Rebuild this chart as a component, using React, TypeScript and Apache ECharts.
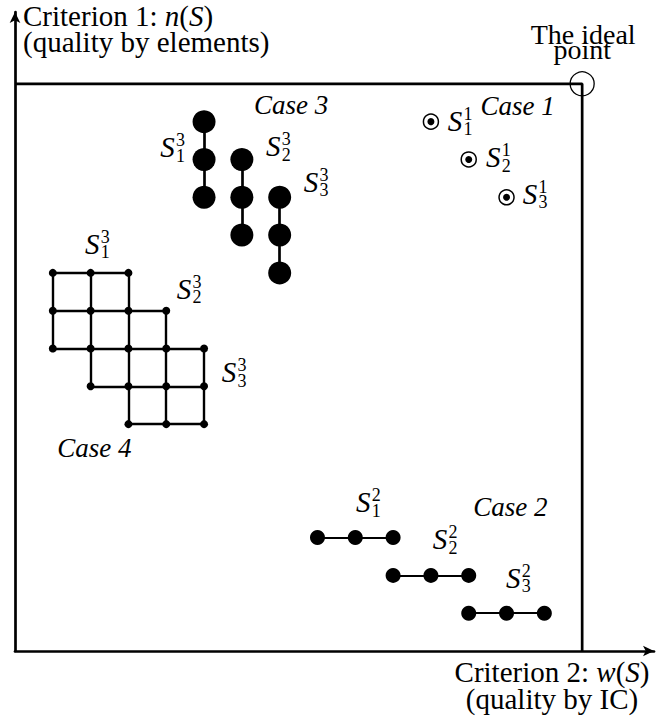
import React, { useEffect, useRef } from "react";
import * as echarts from "echarts";

const FONT = "Liberation Serif, serif";
const AXIS_MAX = 16.9;

// Frame of the criteria space (top and right sides), ideal point
const boxPath = [[0, 15], [15, 15], [15, 0]];
const idealPoint = [15, 15];

// Case 1: single solutions (circled points)
const case1Points = [[11, 14], [12, 13], [13, 12]];
// Case 2: horizontal triples
const case2Sets = [
  [[8, 3], [9, 3], [10, 3]],
  [[10, 2], [11, 2], [12, 2]],
  [[12, 1], [13, 1], [14, 1]],
];
// Case 3: vertical triples
const case3Sets = [
  [[5, 14], [5, 13], [5, 12]],
  [[6, 13], [6, 12], [6, 11]],
  [[7, 12], [7, 11], [7, 10]],
];
// Case 4: lattice (rows: [y, xFrom, xTo], cols: [x, yFrom, yTo])
const case4Rows = [[10, 1, 3], [9, 1, 4], [8, 1, 5], [7, 2, 5], [6, 3, 5]];
const case4Cols = [[1, 8, 10], [2, 7, 10], [3, 6, 10], [4, 6, 9], [5, 6, 8]];
const case4Nodes = [
  [1, 10], [2, 10], [3, 10],
  [1, 9], [2, 9], [3, 9], [4, 9],
  [1, 8], [2, 8], [3, 8], [4, 8], [5, 8],
  [2, 7], [3, 7], [4, 7], [5, 7],
  [3, 6], [4, 6], [5, 6],
];

// S labels (position of the letter S in data units)
const sLabelPos = [
  [4.03, 13.32], [6.83, 13.35], [7.83, 12.41],
  [11.64, 14.02], [12.65, 13.06], [13.62, 12.09],
  [9.21, 3.93], [11.24, 2.96], [13.18, 1.94],
  [2.04, 10.77], [4.47, 9.58], [5.66, 7.37],
];
const sLabelSup = ["3", "3", "3", "1", "1", "1", "2", "2", "2", "3", "3", "3"];
const sLabelSub = ["1", "2", "3", "1", "2", "3", "1", "2", "3", "1", "2", "3"];

const caseNames = ["Case 1", "Case 2", "Case 3", "Case 4"];
const casePos = [[13.29, 14.42], [13.1, 3.81], [7.3, 14.44], [2.1, 5.37]];

const idealLines = ["The ideal", "point"];
// title pieces: [text, italic]
const yTitle1: [string, boolean][] = [["Criterion 1: ", false], ["n", true], ["(", false], ["S", true], [")", false]];
const yTitle2 = "(quality by elements)";
const xTitle1: [string, boolean][] = [["Criterion 2: ", false], ["w", true], ["(", false], ["S", true], [")", false]];
const xTitle2 = "(quality by IC)";

const black = "#000";

function txt(x: number, y: number, text: string, size: number, italic: boolean, align = "center", valign = "middle") {
  return {
    type: "text",
    x,
    y,
    silent: true,
    z: 100,
    style: {
      text,
      fontFamily: FONT,
      fontSize: size,
      fontStyle: italic ? "italic" : "normal",
      fill: black,
      textAlign: align,
      textVerticalAlign: valign,
    },
  };
}

export default function App() {
  const ref = useRef<HTMLDivElement>(null);
  useEffect(() => {
    if (!ref.current) return;
    const chart = echarts.init(ref.current, null, { renderer: "svg" });
    const case4Segs = [
      ...case4Rows.map((r) => ({ coords: [[r[1], r[0]], [r[2], r[0]]] })),
      ...case4Cols.map((c) => ({ coords: [[c[0], c[1]], [c[0], c[2]]] })),
    ];
    const axisCommon = {
      type: "value",
      min: 0,
      max: AXIS_MAX,
      axisLine: {
        show: true,
        onZero: false,
        symbol: ["none", "arrow"],
        symbolSize: [8, 11],
        lineStyle: { color: black, width: 2.7 },
      },
      axisTick: { show: false },
      axisLabel: { show: false },
      splitLine: { show: false },
    };
    chart.setOption({
      animation: false,
      grid: { left: 15, top: 12, width: 639, height: 639 },
      xAxis: axisCommon,
      yAxis: axisCommon,
      series: [
        {
          type: "line",
          data: boxPath,
          symbol: "none",
          silent: true,
          lineStyle: { color: black, width: 2.7 },
          z: 2,
        },
        {
          type: "lines",
          coordinateSystem: "cartesian2d",
          data: case3Sets.map((s) => ({ coords: [s[0], s[s.length - 1]] })),
          lineStyle: { color: black, width: 2.7, opacity: 1 },
          silent: true,
          z: 3,
        },
        {
          type: "lines",
          coordinateSystem: "cartesian2d",
          data: case2Sets.map((s) => ({ coords: [s[0], s[s.length - 1]] })),
          lineStyle: { color: black, width: 2, opacity: 1 },
          silent: true,
          z: 3,
        },
        {
          type: "lines",
          coordinateSystem: "cartesian2d",
          data: case4Segs,
          lineStyle: { color: black, width: 2.4, opacity: 1 },
          silent: true,
          z: 3,
        },
        {
          type: "scatter",
          data: case3Sets.flat(),
          symbolSize: 23,
          itemStyle: { color: black, opacity: 1 },
          silent: true,
          z: 4,
        },
        {
          type: "scatter",
          data: case2Sets.flat(),
          symbolSize: 15,
          itemStyle: { color: black, opacity: 1 },
          silent: true,
          z: 4,
        },
        {
          type: "scatter",
          data: case4Nodes,
          symbolSize: 8,
          itemStyle: { color: black, opacity: 1 },
          silent: true,
          z: 4,
        },
        {
          type: "scatter",
          data: case1Points,
          symbolSize: 15,
          itemStyle: { color: "#fff", borderColor: black, borderWidth: 1.5, opacity: 1 },
          silent: true,
          z: 4,
        },
        {
          type: "scatter",
          data: case1Points,
          symbolSize: 7,
          itemStyle: { color: black, opacity: 1 },
          silent: true,
          z: 5,
        },
        {
          type: "scatter",
          data: [idealPoint],
          symbolSize: 24,
          itemStyle: { color: "rgba(0,0,0,0)", borderColor: black, borderWidth: 1.3, opacity: 1 },
          silent: true,
          z: 5,
        },
      ],
    });

    // Text marks placed through the grid's own coordinate conversion
    const toPx = (p: number[]) => chart.convertToPixel({ gridIndex: 0 }, p) as number[];
    const ctx = document.createElement("canvas").getContext("2d") as CanvasRenderingContext2D;
    const measure = (t: string, size: number, italic: boolean) => {
      ctx.font = `${italic ? "italic " : ""}${size}px ${FONT}`;
      return ctx.measureText(t).width;
    };
    const pieces = (parts: [string, boolean][], x0: number, y: number, size: number) => {
      let x = x0;
      const out: any[] = [];
      parts.forEach(([t, it]) => {
        out.push(txt(x, y, t, size, it, "left", "middle"));
        x += measure(t, size, it);
      });
      return out;
    };
    const partsWidth = (parts: [string, boolean][], size: number) =>
      parts.reduce((s, [t, it]) => s + measure(t, size, it), 0);

    const g: any[] = [];
    sLabelPos.forEach((p, i) => {
      const [x, y] = toPx(p);
      g.push(txt(x, y, "S", 29, true));
      g.push(txt(x + 13, y - 7, sLabelSup[i], 18, false));
      g.push(txt(x + 13, y + 8.5, sLabelSub[i], 18, false));
    });
    casePos.forEach((p, i) => {
      const [x, y] = toPx(p);
      g.push(txt(x, y, caseNames[i], 27, true));
    });
    const [ix, iy] = toPx(idealPoint);
    g.push(txt(ix + 1, iy - 49, idealLines[0], 28, false));
    g.push(txt(ix, iy - 34, idealLines[1], 28, false));

    const TS = 29;
    g.push(...pieces(yTitle1, 23, 16, TS));
    g.push(txt(23, 42, yTitle2, TS, false, "left", "middle"));
    const w1 = partsWidth(xTitle1, TS);
    const cx = 552;
    g.push(...pieces(xTitle1, cx - w1 / 2, 672, TS));
    g.push(txt(cx, 699, xTitle2, TS, false, "center", "middle"));

    chart.setOption({ graphic: g });
    return () => chart.dispose();
  }, []);
  return (
    <div
      ref={ref}
      style={{ position: "absolute", left: 0, top: 0, width: 657, height: 723, background: "#fff" }}
    />
  );
}
